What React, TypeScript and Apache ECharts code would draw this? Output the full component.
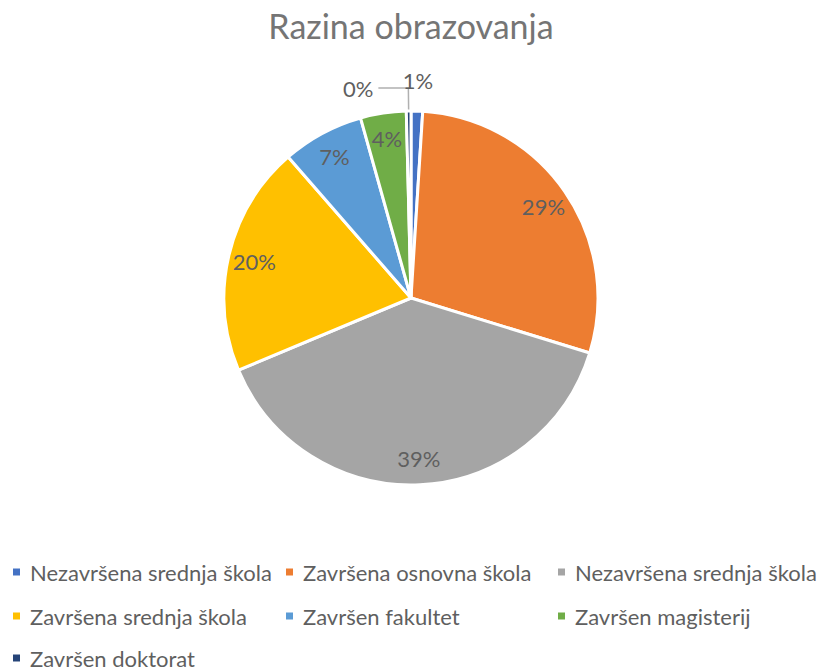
import React, { useEffect, useRef } from "react";
import * as echarts from "echarts";

const chartTitle = "Razina obrazovanja";
const categories = [
  "Nezavršena srednja škola",
  "Završena osnovna škola",
  "Nezavršena srednja škola",
  "Završena srednja škola",
  "Završen fakultet",
  "Završen magisterij",
  "Završen doktorat",
];
const shares = [1.0, 28.75, 38.95, 19.9, 7.05, 3.95, 0.4];
const colors = ["#4472C4", "#ED7D31", "#A5A5A5", "#FFC000", "#5B9BD5", "#70AD47", "#264478"];

const FONT = "Lato, 'Open Sans', sans-serif";
const TEXT = "#5f5f5f";
const CX = 411;
const CY = 298;
const R = 187;
const legendCols = [13, 286, 558];
const legendRows = [571, 615, 657];

const pct = (p: any) => Math.round(p.percent) + "%";

export default function App() {
  const ref = useRef<HTMLDivElement>(null);
  useEffect(() => {
    if (!ref.current) return;
    const chart = echarts.init(ref.current, undefined, { renderer: "svg" });

    const legends = categories.map((name, i) => ({
      show: true,
      orient: "horizontal",
      left: legendCols[i % 3],
      top: legendRows[Math.floor(i / 3)] - 10,
      padding: 0,
      icon: "rect",
      itemWidth: 7,
      itemHeight: 7,
      selectedMode: false,
      itemStyle: { borderWidth: 0 },
      textStyle: { fontFamily: FONT, fontSize: 22, color: TEXT, lineHeight: 20, padding: [0, 0, 0, 5] },
      data: [{ name, itemStyle: { color: colors[i], borderColor: colors[i], borderWidth: 0 } }],
    }));

    const mainData = categories.map((name, i) => ({
      name,
      value: shares[i],
      itemStyle: { color: colors[i] },
      label:
        i === 6
          ? { show: true, position: "outside", formatter: pct, fontFamily: FONT, fontSize: 22, color: TEXT }
          : { show: false },
      labelLine: i === 6 ? { show: true, length: 23, length2: 30, lineStyle: { color: "#B0B0B0", width: 1.5 } } : { show: false },
    }));

    const innerData = categories.map((name, i) => ({
      name,
      value: shares[i],
      label: { show: i >= 1 && i <= 5 },
    }));

    const topData = categories.map((name, i) => ({
      name,
      value: shares[i],
      label: { show: i === 0 },
    }));

    const overlayBase = {
      type: "pie",
      center: [CX, CY],
      startAngle: 90,
      silent: true,
      avoidLabelOverlap: false,
      itemStyle: { color: "rgba(0,0,0,0)", borderWidth: 0 },
      emphasis: { disabled: true },
      labelLine: { show: false },
      label: { position: "inside", formatter: pct, fontFamily: FONT, fontSize: 22, color: TEXT },
    };

    chart.setOption({
      animation: false,
      title: {
        text: chartTitle,
        left: "center",
        top: 5,
        padding: 0,
        textStyle: { fontFamily: FONT, fontSize: 34, fontWeight: "normal", color: "#757575", lineHeight: 40 },
      },
      legend: legends,
      series: [
        {
          type: "pie",
          name: "main",
          center: [CX, CY],
          radius: R,
          startAngle: 90,
          avoidLabelOverlap: false,
          itemStyle: { borderColor: "#ffffff", borderWidth: 3 },
          emphasis: { disabled: true },
          data: mainData,
        },
        { ...overlayBase, name: "labels", radius: [129, R], data: innerData },
        { ...overlayBase, name: "labelsTop", radius: [201, 229], data: topData },
      ],
    });
    return () => chart.dispose();
  }, []);
  return (
    <div
      ref={ref}
      style={{ position: "fixed", left: 0, top: 0, width: 822, height: 670, background: "#ffffff" }}
    />
  );
}
